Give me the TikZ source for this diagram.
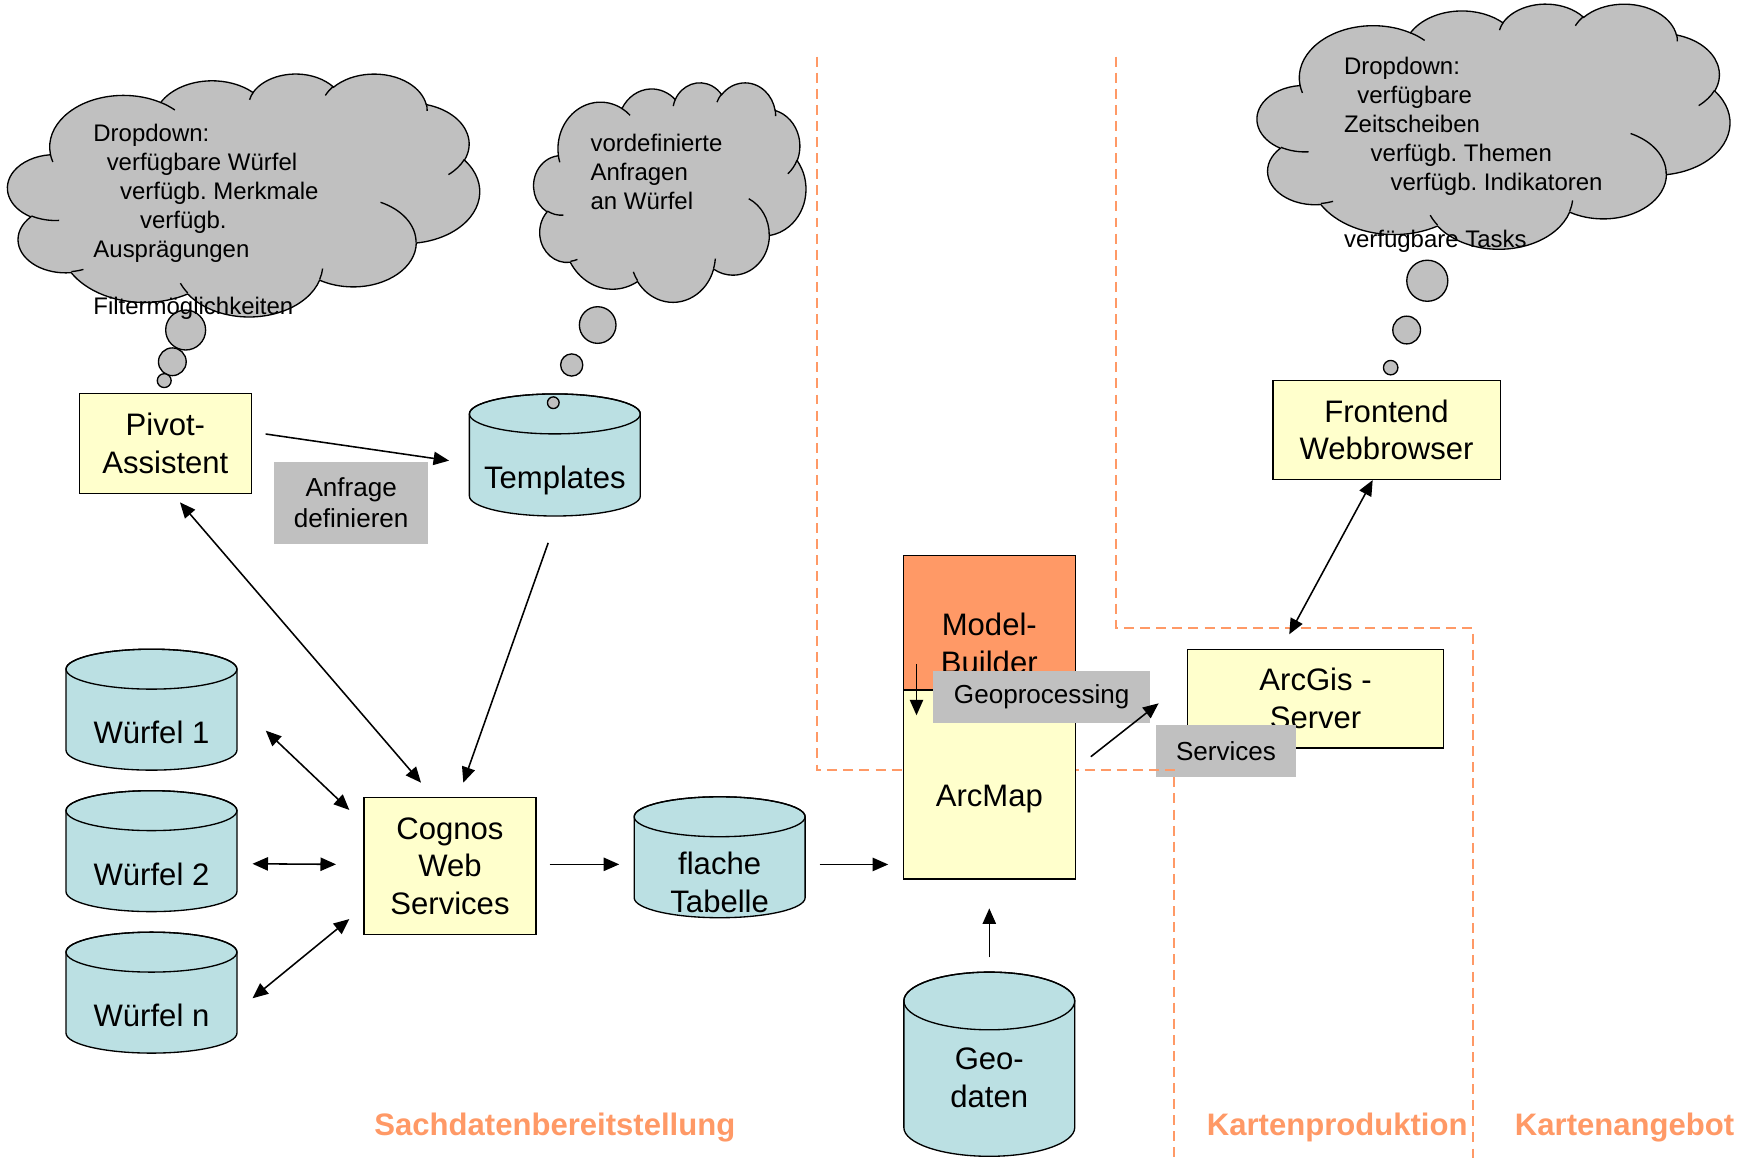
\documentclass[tikz,border=0pt]{standalone}
\usepackage{fontspec}
\setmainfont{Liberation Sans}
\usetikzlibrary{arrows.meta,calc}
\frenchspacing
\definecolor{boxyellow}{HTML}{FFFFCC}
\definecolor{cylcyan}{RGB}{187,224,227}
\definecolor{lblgray}{HTML}{C0C0C0}
\definecolor{orng}{HTML}{FF9966}
\newcommand\fntbox{\fontsize{28}{34}\selectfont}
\newcommand\fntlbl{\fontsize{23.5}{28}\selectfont}
\newcommand\fntcld{\fontsize{21.6}{26}\selectfont}
\newcommand\fntsec{\fontsize{28}{34}\selectfont\bfseries}
% PowerPoint-style cloud arc (visual angles converted to parametric)
\newcommand\carc[4]{arc[start angle={atan2((#1)*sin(#3),(#2)*cos(#3))}, delta angle={mod(atan2((#1)*sin((#3)+(#4)),(#2)*cos((#3)+(#4)))-atan2((#1)*sin(#3),(#2)*cos(#3))+720,360)}, x radius=#1, y radius=#2]}
\newcommand\cloudoutline{(3900,14370) \carc{6753}{9190}{-190.48748}{123.78053} \carc{5333}{7267}{-144.10238}{89.94523} \carc{4365}{5945}{-145.80792}{99.72302} \carc{4857}{6595}{-130.98607}{117.24173} \carc{5333}{7273}{-78.70888}{109.02692} \carc{6775}{9220}{-46.26725}{130.269} \carc{5785}{7867}{0.62502}{114.03333} \carc{6752}{9215}{22.4516}{115.17255} \carc{7720}{10543}{66.24263}{75.71102} \carc{4360}{5918}{-274.94208}{146.73557} \carc{4345}{5945}{-246.8285}{152.51885} -- cycle}
\newcommand\cloudinner{(4693,26177) \carc{4345}{5945}{86.742}{26.4295} (6928,34899) \carc{4360}{5918}{73.61047}{11.44747} (16478,39090) \carc{6752}{9215}{137.62415}{14.0811} (28827,34751) \carc{6752}{9215}{6.45327}{15.99835} (34129,22954) \carc{5785}{7867}{-70.29235}{70.91737} (41798,15354) \carc{5333}{7273}{30.31803}{27.7515} (38324,5426) \carc{4857}{6595}{-13.74433}{14.8589} (29078,3952) \carc{4857}{6595}{-149.18145}{18.19537} (22141,4720) \carc{4365}{5945}{-163.49427}{17.68635} (14000,5192) \carc{6753}{9190}{-66.70695}{12.31935} (4127,15789) \carc{6753}{9190}{157.65435}{11.85817}}
\tikzset{
  box/.style={draw, line width=1.2pt, fill=boxyellow, inner sep=0pt},
  boxtext/.style={font=\fntbox, align=center, inner sep=0pt},
  lbl/.style={fill=lblgray, font=\fntlbl, align=center, inner sep=0pt},
  cylbody/.style={draw, line width=1.2pt, fill=cylcyan},
  cylline/.style={line width=1.2pt},
  cylnode/.style={minimum width=154pt, inner sep=0pt},
  cloudfill/.style={draw, line width=1.2pt, fill=lblgray},
  cloudline/.style={line width=1.2pt},
  bubble/.style={circle, draw, line width=1.2pt, fill=lblgray, inner sep=0pt},
  cldtext/.style={font=\fntcld, align=left, inner sep=0pt, anchor=north west},
  arr/.style={line width=1.4pt, -{Triangle[length=14pt,width=12pt]}},
  darr/.style={line width=1.4pt, {Triangle[length=14pt,width=12pt]}-{Triangle[length=14pt,width=12pt]}},
  sepline/.style={draw=orng, line width=1.8pt, dash pattern=on 9pt off 5.5pt},
  sectext/.style={font=\fntsec, text=orng, inner sep=0pt},
}
\newcommand\dbcyl[7]{%
  \path[cylbody] ({#2-77},{#3+#5}) -- ({#2-77},{#3+#4-#5})
     arc[start angle=180, end angle=360, x radius=77pt, y radius=#5pt]
     -- ({#2+77},{#3+#5})
     arc[start angle=0, end angle=180, x radius=77pt, y radius=#5pt] -- cycle;
  \draw[cylline] (#2,{#3+#5}) ellipse [x radius=77pt, y radius=#5pt];
  \node[cylnode, minimum height=#4pt] (#1) at (#2,{#3+#4/2}) {};
  \node[boxtext] (#1-t) at (#2,#6) {#7};
}
\begin{document}
\begin{tikzpicture}[x=1pt, y=-1pt]
\useasboundingbox (0,0) rectangle (1568,1043.5);

% cylinders
\dbcyl{templ}{500}{355}{110}{18}{433}{Templates}
\dbcyl{w1}{136.5}{585}{109}{18}{660}{Würfel 1}
\dbcyl{w2}{136.5}{712.5}{109}{18}{788}{Würfel 2}
\dbcyl{wn}{136.5}{840}{109}{18}{915}{Würfel n}
\dbcyl{flach}{648.5}{718}{109}{18}{795}{flache\\Tabelle}
\dbcyl{geo}{891.5}{876}{166}{26}{971}{Geo-\\daten}

% boxes
\node[box, minimum width=155pt, minimum height=90pt] (pivot) at (149,399.5) {};
\node[boxtext] (pivot-t) at (pivot.center) {Pivot-\\Assistent};
\node[box, minimum width=155pt, minimum height=123.5pt] (cognos) at (405.5,780.5) {};
\node[boxtext] (cognos-t) at (cognos.center) {Cognos\\Web\\Services};
\node[box, minimum width=231pt, minimum height=89pt] (arcgis) at (1185.5,629.5) {};
\node[boxtext] (arcgis-t) at (arcgis.center) {ArcGis -\\Server};
\node[box, minimum width=205pt, minimum height=89pt] (front) at (1249.5,387.5) {};
\node[boxtext] (front-t) at (front.center) {Frontend\\Webbrowser};

% grey labels
\node[lbl, minimum width=139pt, minimum height=74pt] (lanf) at (316.5,453) {Anfrage\\definieren};
\node[lbl, minimum width=126pt, minimum height=46.6pt] (lserv) at (1104.8,676.6) {Services};

% dashed section borders
\draw[sepline] (736,51) -- (736,694) -- (1058,694) -- (1058,1046);
\draw[sepline] (1006,51) -- (1006,566) -- (1327,566) -- (1327,1046);

% Model-Builder / ArcMap
\node[box, fill=orng, minimum width=155pt, minimum height=121pt] (mb) at (891.5,561) {};
\node[boxtext] (mb-t) at ($(mb.center)+(0,19)$) {Model-\\Builder};
\node[box, minimum width=155pt, minimum height=170pt] (arcmap) at (891.5,707) {};
\node[boxtext] (arcmap-t) at ($(arcmap.center)+(0,13)$) {ArcMap};
\node[lbl, minimum width=195pt, minimum height=46.5pt] (lgeo) at (938.7,628) {Geoprocessing};

% clouds
\begin{scope}[shift={(7,66)}, x=0.009838pt, y=-0.0050694pt]
  \path[cloudfill] \cloudoutline;
  \draw[cloudline] \cloudinner;
\end{scope}
\begin{scope}[shift={(481,74)}, x=0.0056713pt, y=-0.0045833pt]
  \path[cloudfill] \cloudoutline;
  \draw[cloudline] \cloudinner;
\end{scope}
\begin{scope}[shift={(1133,3)}, x=0.0098611pt, y=-0.0051157pt]
  \path[cloudfill] \cloudoutline;
  \draw[cloudline] \cloudinner;
\end{scope}

% bubbles
\node[bubble, minimum size=36pt] (b1a) at (167.3,297.4) {};
\node[bubble, minimum size=25pt] (b1b) at (155.3,326) {};
\node[bubble, minimum size=12.5pt] (b1c) at (148,343) {};
\node[bubble, minimum size=33pt] (b2a) at (538.6,292.9) {};
\node[bubble, minimum size=20pt] (b2b) at (515.2,328.9) {};
\node[bubble, minimum size=10.5pt] (b2c) at (498.6,362.9) {};
\node[bubble, minimum size=37pt] (b3a) at (1286.2,253) {};
\node[bubble, minimum size=25pt] (b3b) at (1267.6,297.4) {};
\node[bubble, minimum size=13pt] (b3c) at (1253.2,331.3) {};

% cloud texts
\node[cldtext] (c1t) at (84,112) {Dropdown:\\\hspace*{12pt}verfügbare Würfel\\\hspace*{24pt}verfügb. Merkmale\\\hspace*{42pt}verfügb.\\Ausprägungen\\[26pt]Filtermöglichkeiten};
\node[cldtext] (c2t) at (532,121) {vordefinierte\\Anfragen\\an Würfel};
\node[cldtext] (c3t) at (1211,51.5) {Dropdown:\\\hspace*{12pt}verfügbare\\Zeitscheiben\\\hspace*{24pt}verfügb. Themen\\\hspace*{42pt}verfügb. Indikatoren\\[26pt]verfügbare Tasks};

% connectors
\draw[arr] ($(pivot.east)+(12.3,-8.4)$) -- ($(templ.west)+(-18.1,5.1)$);
\draw[darr] ($(pivot.south)+(13.2,7.6)$) -- ($(cognos.north)+(-26.1,-12.85)$);
\draw[arr] ($(templ.south)+(-6,24)$) -- ($(cognos.north)+(12,-12.85)$);
\draw[darr] ($(w1.east)+(25.8,18.9)$) -- ($(cognos.west)+(-12.6,-50.6)$);
\draw[darr] ($(w2.east)+(13.8,11.4)$) -- ($(cognos.west)+(-24.6,-1.6)$);
\draw[darr] ($(wn.east)+(13.8,5.1)$) -- ($(cognos.west)+(-12.6,47.7)$);
\draw[arr] ($(cognos.east)+(11.7,-1.6)$) -- ($(flach.west)+(-13.3,6.4)$);
\draw[arr] ($(flach.east)+(13,6.5)$) -- ($(arcmap.west)+(-13,72)$);
\draw[arr] ($(geo.north)+(0,-13)$) -- ($(arcmap.south)+(0,26)$);
\draw[arr] ($(mb.south west)+(12.5,-23.8)$) -- ($(arcmap.north west)+(12.5,23.2)$);
\draw[arr] ($(arcmap.east)+(13.4,-25.1)$) -- ($(arcgis.west)+(-25.3,4.3)$);
\draw[darr] ($(front.south)+(-12.5,0)$) -- ($(arcgis.north)+(-23.7,-12.8)$);

% section titles
\node[sectext] (sec1) at (500,1016) {Sachdatenbereitstellung};
\node[sectext] (sec2) at (1205,1016) {Kartenproduktion};
\node[sectext, anchor=west] (sec3) at (1365,1016) {Kartenangebot};
\end{tikzpicture}
\end{document}
